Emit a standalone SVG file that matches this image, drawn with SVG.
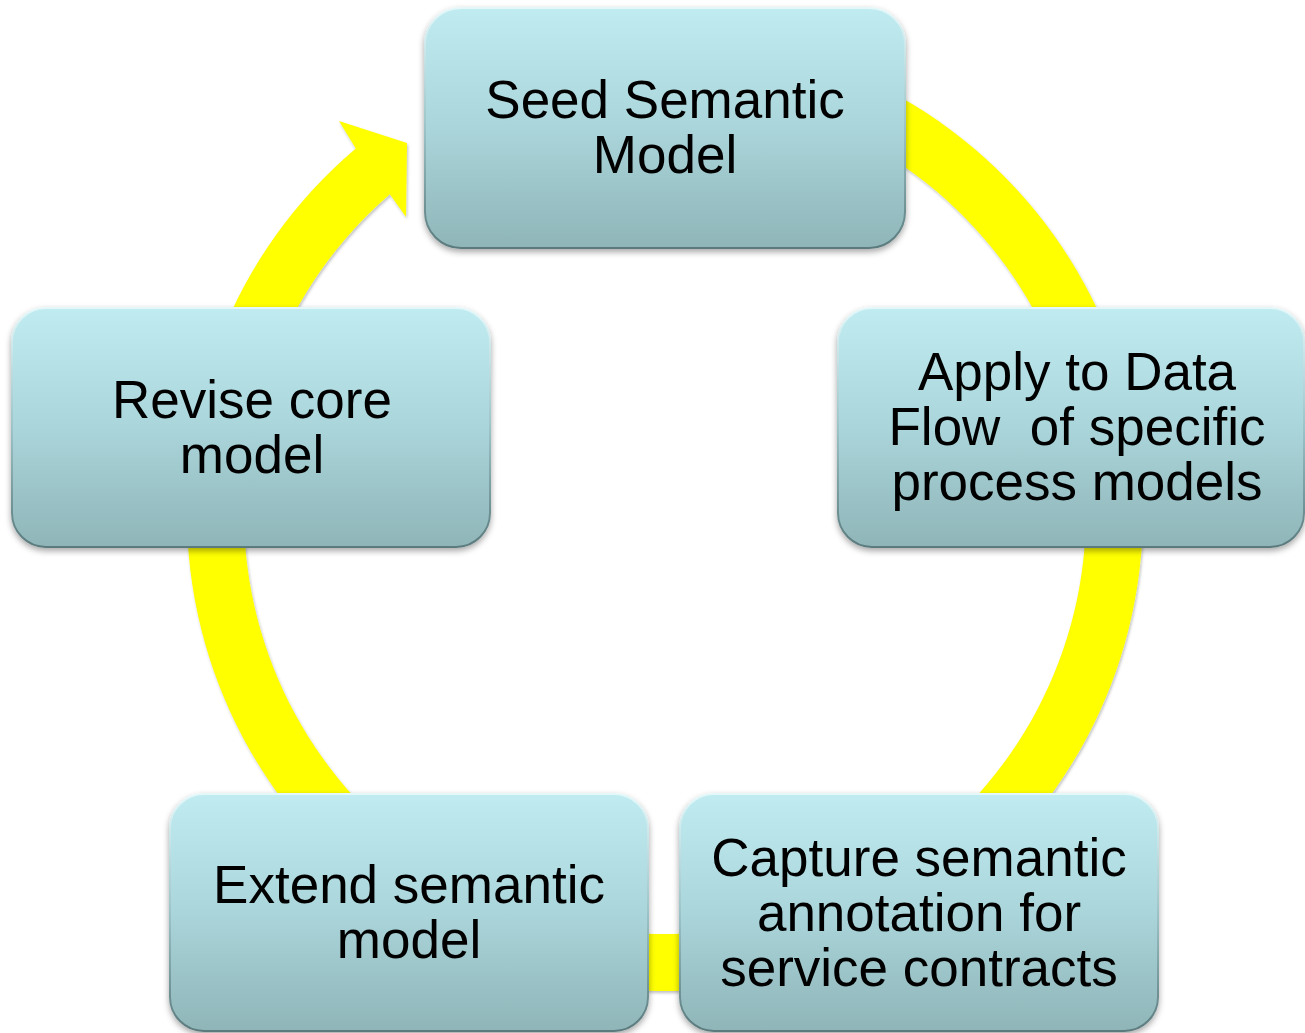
<svg xmlns="http://www.w3.org/2000/svg" width="1305" height="1033" viewBox="0 0 1305 1033">
  <defs>
    <linearGradient id="boxFill" x1="0" y1="0" x2="0" y2="1">
      <stop offset="0" stop-color="#c0ecf1"/>
      <stop offset="0.5" stop-color="#aad5da"/>
      <stop offset="1" stop-color="#8fb5b8"/>
    </linearGradient>
    <linearGradient id="boxEdge" x1="0" y1="0" x2="0" y2="1">
      <stop offset="0" stop-color="#e4f8fa"/>
      <stop offset="0.5" stop-color="#9cc4c8"/>
      <stop offset="1" stop-color="#5a7a7d"/>
    </linearGradient>
    <filter id="boxShadow" x="-10%" y="-10%" width="120%" height="125%">
      <feDropShadow dx="0" dy="3" stdDeviation="3" flood-color="#000" flood-opacity="0.35"/>
    </filter>
    <filter id="ringShadow" x="-5%" y="-5%" width="110%" height="110%">
      <feDropShadow dx="1" dy="2" stdDeviation="1.5" flood-color="#000" flood-opacity="0.25"/>
    </filter>
  </defs>
  <style>
    .box { fill: url(#boxFill); stroke: url(#boxEdge); stroke-width: 2; filter: url(#boxShadow); }
    .label { font-family: "Liberation Sans", Arial, sans-serif; font-size: 53px; fill: #000; text-anchor: middle; white-space: pre; }
    .ring { fill: #ffff00; filter: url(#ringShadow); }
  </style>

  <rect width="1305" height="1033" fill="#ffffff"/>

  <!-- circular flow arrow behind the steps: ring centred at (665,513), radii 421 / 478 -->
  <g id="connectors">
    <path class="ring" d="M355.8,148.4 L339,121 L407,143 L406,217 L389.9,194.3 A421,421 0 1 0 521,117.4 L501.5,63.8 A478,478 0 1 1 355.8,148.4 Z"/>
  </g>

  <g id="node-seed">
    <rect class="box" x="425" y="8" width="480" height="240" rx="36" ry="36"/>
    <text class="label" x="665" y="118">Seed Semantic</text>
    <text class="label" x="665" y="173">Model</text>
  </g>

  <g id="node-apply">
    <rect class="box" x="838" y="308" width="466" height="239" rx="34" ry="34"/>
    <text class="label" x="1077" y="390">Apply to Data</text>
    <text class="label" x="1077" y="445">Flow  of specific</text>
    <text class="label" x="1077" y="500">process models</text>
  </g>

  <g id="node-capture">
    <rect class="box" x="680" y="794" width="478" height="237" rx="34" ry="34"/>
    <text class="label" x="919" y="876">Capture semantic</text>
    <text class="label" x="919" y="931">annotation for</text>
    <text class="label" x="919" y="986">service contracts</text>
  </g>

  <g id="node-extend">
    <rect class="box" x="170" y="794" width="478" height="237" rx="34" ry="34"/>
    <text class="label" x="409" y="903">Extend semantic</text>
    <text class="label" x="409" y="958">model</text>
  </g>

  <g id="node-revise">
    <rect class="box" x="12" y="308" width="478" height="239" rx="34" ry="34"/>
    <text class="label" x="252" y="418">Revise core</text>
    <text class="label" x="252" y="473">model</text>
  </g>
</svg>
